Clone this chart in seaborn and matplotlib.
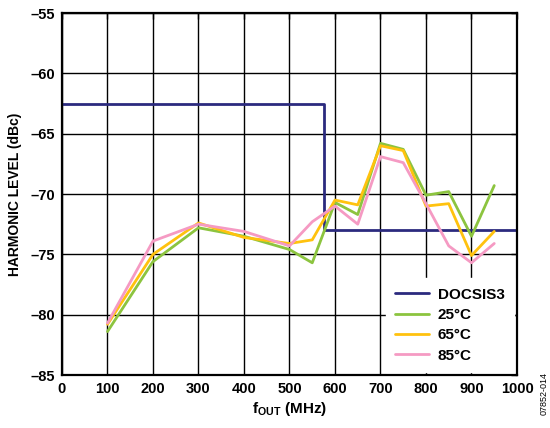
import numpy as np
import pandas as pd
import matplotlib
matplotlib.use("Agg")
import matplotlib.pyplot as plt
import seaborn as sns
from matplotlib.ticker import FuncFormatter, MultipleLocator

sns.set_style("white")
plt.rcParams['font.family'] = ['Liberation Sans', 'DejaVu Sans']
plt.rcParams['font.weight'] = 'bold'
plt.rcParams['text.color'] = 'black'
plt.rcParams['axes.labelcolor'] = 'black'
plt.rcParams['xtick.color'] = 'black'
plt.rcParams['ytick.color'] = 'black'
plt.rcParams['mathtext.fontset'] = 'custom'
plt.rcParams['mathtext.rm'] = 'Liberation Sans:bold'
plt.rcParams['mathtext.bf'] = 'Liberation Sans:bold'
plt.rcParams['mathtext.it'] = 'Liberation Sans:bold'

# Data
freq = [100, 200, 300, 400, 500, 550, 600, 650, 700, 750, 800, 850, 900, 950]
t25 = [-81.4, -75.6, -72.8, -73.5, -74.6, -75.7, -70.7, -71.7, -65.8, -66.3, -70.1, -69.8, -73.5, -69.3]
t65 = [-80.8, -75.0, -72.4, -73.6, -74.1, -73.8, -70.5, -70.9, -66.0, -66.4, -71.0, -70.8, -75.1, -73.1]
t85 = [-80.7, -73.9, -72.5, -73.1, -74.3, -72.3, -71.0, -72.5, -66.9, -67.4, -70.8, -74.3, -75.7, -74.1]
docsis_x = [0, 576, 576, 1000]
docsis_y = [-62.5, -62.5, -73.0, -73.0]
series_names = ["25°C", "65°C", "85°C"]
colors = {"DOCSIS3": "#2B2A7E", "25°C": "#8CC43F", "65°C": "#FFC20E", "85°C": "#F59AC3"}

df = pd.DataFrame({
    "f": freq * 3,
    "level": t25 + t65 + t85,
    "series": [s for s in series_names for _ in freq],
})
dd = pd.DataFrame({"f": docsis_x, "level": docsis_y, "series": ["DOCSIS3"] * 4})

fig = plt.figure(figsize=(5.5, 4.28), dpi=100)
ax = fig.add_axes([0.1127, 0.1238, 0.9400 - 0.1127, 0.9696 - 0.1238])

sns.lineplot(data=dd, x="f", y="level", color=colors["DOCSIS3"], lw=2.0,
             sort=False, estimator=None, ax=ax, label="DOCSIS3")
for s in series_names:
    sns.lineplot(data=df[df.series == s], x="f", y="level", color=colors[s],
                 lw=2.0, estimator=None, ax=ax, label=s)

ax.set_xlim(0, 1000)
ax.set_ylim(-85, -55)
ax.xaxis.set_major_locator(MultipleLocator(100))
ax.yaxis.set_major_locator(MultipleLocator(5))
fmt = FuncFormatter(lambda v, p: ("\u2013%d" % abs(v)) if v < 0 else "%d" % v)
ax.yaxis.set_major_formatter(fmt)
ax.grid(True, color="black", lw=1.0)
ax.set_axisbelow(True)
for sp in ax.spines.values():
    sp.set_color("black")
    sp.set_linewidth(1.6)
ax.tick_params(direction="in", length=4, width=1, labelsize=10.5, top=True, right=True,
               pad=5, colors="black")
for lab in ax.get_xticklabels() + ax.get_yticklabels():
    lab.set_fontweight("bold")

ax.set_xlabel(r"$\mathbf{f}_{\mathbf{OUT}}$ (MHz)", fontsize=11, fontweight="bold", labelpad=3)
ax.set_ylabel("HARMONIC LEVEL (dBc)", fontsize=10, fontweight="bold", labelpad=6)

leg = ax.legend(loc="lower right", frameon=True, fancybox=False, framealpha=1,
                edgecolor="white", fontsize=11, handlelength=2.2, borderaxespad=0.2,
                labelspacing=0.42, handletextpad=0.6, borderpad=0.6)
for t in leg.get_texts():
    t.set_fontweight("bold")
    t.set_color("black")

fig.text(0.99, 0.08, "07852-014", rotation=90, fontsize=6.5, fontweight="normal",
         ha="center", va="center")

fig.savefig("out.png", dpi=100)
